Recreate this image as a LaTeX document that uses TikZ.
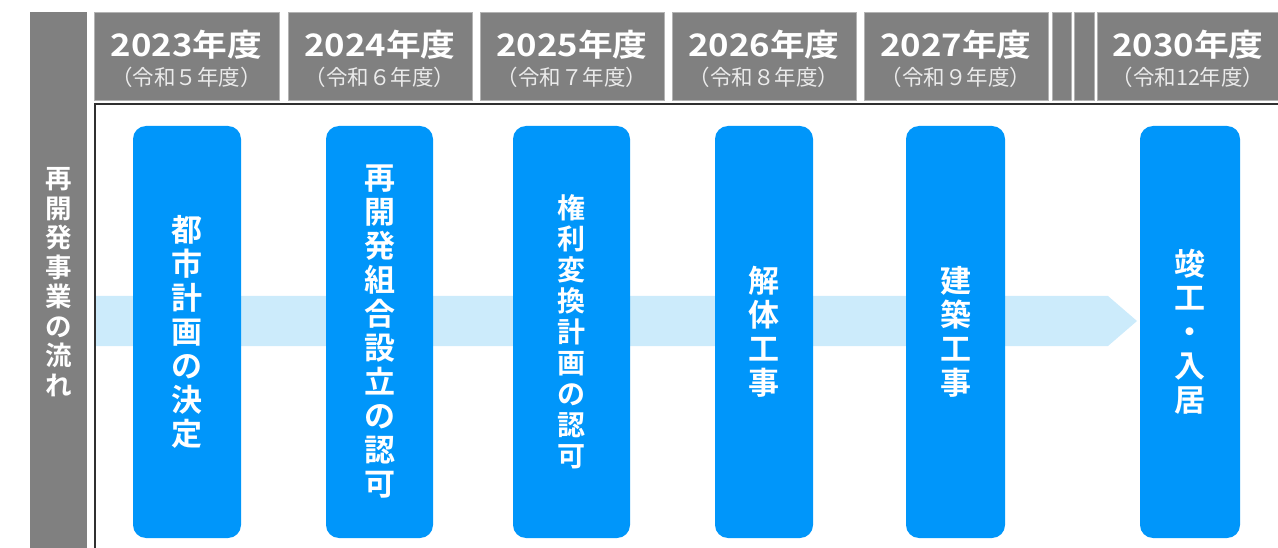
\documentclass[tikz,border=0pt]{standalone}
\usepackage{fontspec}
\setmainfont{Noto Sans CJK JP}
\newfontfamily\jpb{Noto Sans CJK JP Bold}
\newfontfamily\jpr{Noto Sans CJK JP}
\definecolor{hdr}{HTML}{808080}
\definecolor{stepblue}{HTML}{0096FA}
\definecolor{band}{HTML}{CCEBFB}
\definecolor{frameline}{HTML}{303030}
\newcommand{\yr}[1]{\scalebox{1.12}[1]{#1}}
\begin{document}
\begin{tikzpicture}[x=1pt,y=-1pt,
  hdrbox/.style={fill=hdr,draw=hdr!60,line width=0.6pt,inner sep=0pt},
  yeartxt/.style={text=white,font=\jpb\fontsize{31}{32}\selectfont,inner sep=0pt},
  subtxt/.style={text=white!92!black,font=\jpr\fontsize{21.5}{22}\selectfont,inner sep=0pt},
  stepbox/.style={fill=stepblue,rounded corners=13pt,inner sep=0pt},
  steptxt/.style={text=white,font=\jpb\fontsize{31}{34}\selectfont,align=center,inner sep=0pt},
]
\useasboundingbox (0,0) rectangle (1278,548);
% left column
\fill[hdr] (30,12) rectangle (87,548);
\node[text=white,font=\jpb\fontsize{26.5}{29.5}\selectfont,align=center,inner sep=0pt] (lbl) at (58.5,282) {再\\開\\発\\事\\業\\の\\流\\れ};
% header boxes
\foreach \a/\b in {94/279,288/472,480/664,672/856,864/1048,1052/1071,1074/1094,1097/1280}{
  \path[hdrbox] (\a,12) rectangle (\b,100);
}
\node[yeartxt] (y1) at (186.5,45) {\yr{2023年度}};
\node[subtxt] (s1) at (186.5,77) {（令和５年度）};
\node[yeartxt] (y2) at (380,45) {\yr{2024年度}};
\node[subtxt] (s2) at (380,77) {（令和６年度）};
\node[yeartxt] (y3) at (572,45) {\yr{2025年度}};
\node[subtxt] (s3) at (572,77) {（令和７年度）};
\node[yeartxt] (y4) at (764,45) {\yr{2026年度}};
\node[subtxt] (s4) at (764,77) {（令和８年度）};
\node[yeartxt] (y5) at (956,45) {\yr{2027年度}};
\node[subtxt] (s5) at (956,77) {（令和９年度）};
\node[yeartxt] (y8) at (1188,45) {\yr{2030年度}};
\node[subtxt] (s8) at (1188,77) {（令和12年度）};
% frame
\draw[frameline,line width=1.4pt] (95,560) -- (95,104) -- (1290,104);
% arrow band
\fill[band] (96,296) -- (1108,296) -- (1137,321) -- (1108,346) -- (96,346) -- cycle;
% steps
\node[stepbox,minimum width=108pt,minimum height=412pt] (b1) at (187,332) {};
\node[stepbox,minimum width=107pt,minimum height=412pt] (b2) at (379.5,332) {};
\node[stepbox,minimum width=117pt,minimum height=412pt] (b3) at (571.5,332) {};
\node[stepbox,minimum width=98pt,minimum height=412pt] (b4) at (764,332) {};
\node[stepbox,minimum width=99pt,minimum height=412pt] (b5) at (955.5,332) {};
\node[stepbox,minimum width=100pt,minimum height=412pt] (b6) at (1190,332) {};
\node[steptxt] (t1) at (b1.center) {都\\市\\計\\画\\の\\決\\定};
\node[steptxt] (t2) at (b2.center) {再\\開\\発\\組\\合\\設\\立\\の\\認\\可};
\node[steptxt,font=\jpb\fontsize{28}{31}\selectfont] (t3) at (b3.center) {権\\利\\変\\換\\計\\画\\の\\認\\可};
\node[steptxt] (t4) at (b4.center) {解\\体\\工\\事};
\node[steptxt] (t5) at (b5.center) {建\\築\\工\\事};
\node[steptxt] (t6) at (b6.center) {竣\\工\\・\\入\\居};
\end{tikzpicture}
\end{document}
